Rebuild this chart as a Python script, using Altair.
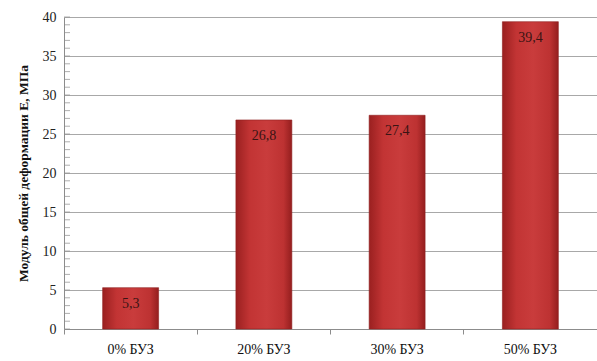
import altair as alt
import pandas as pd

categories = ["0% БУЗ", "20% БУЗ", "30% БУЗ", "50% БУЗ"]
values = [5.3, 26.8, 27.4, 39.4]
minor_ticks = list(range(0, 41))
major_ticks = [0, 5, 10, 15, 20, 25, 30, 35, 40]

df = pd.DataFrame({"cat": categories, "val": values})

FONT = "Liberation Serif"

x_scale = alt.Scale(domain=categories, paddingInner=0, paddingOuter=0)
y_scale = alt.Scale(domain=[0, 40], nice=False)

grad = alt.Gradient(
    gradient="linear",
    stops=[
        alt.GradientStop(color="#9a2020", offset=0),
        alt.GradientStop(color="#c23434", offset=0.25),
        alt.GradientStop(color="#c93c3c", offset=0.55),
        alt.GradientStop(color="#bd3232", offset=0.85),
        alt.GradientStop(color="#941e1e", offset=1),
    ],
    x1=0, x2=1, y1=0, y2=0,
)

bars = alt.Chart(df).mark_bar(
    width={"band": 0.42}, color=grad, stroke="#8e2020", strokeWidth=0.6
).encode(
    x=alt.X("cat:N", scale=x_scale, sort=categories,
            axis=alt.Axis(title=None, labelAngle=0, ticks=False, labelPadding=13,
                          labelFont=FONT, labelFontSize=14, labelColor="#111111",
                          domainColor="#8c8c8c", grid=False)),
    y=alt.Y("val:Q", scale=y_scale,
            axis=alt.Axis(title="Модуль общей деформации Е, МПа", values=major_ticks,
                          orient="left",
                          titleFont=FONT, titleFontSize=13.5, titleFontWeight="bold", titleColor="#111111",
                          titlePadding=12,
                          labelFont=FONT, labelFontSize=14, labelColor="#222222", labelPadding=8,
                          ticks=False, domainColor="#8c8c8c",
                          grid=True, gridColor="#a8a8a8", gridWidth=1)),
)

text = alt.Chart(df).transform_calculate(
    lab="replace(format(datum.val, '.1f'), '.', ',')"
).mark_text(baseline="top", dy=9, font=FONT, fontSize=14, color="#3a1414").encode(
    x=alt.X("cat:N", scale=x_scale, sort=categories, axis=None),
    y=alt.Y("val:Q", scale=y_scale, axis=None),
    text="lab:N",
)

minor_df = pd.DataFrame({"m": minor_ticks})
# minor ticks of the value axis, inside the plot along its left edge
yminor = alt.Chart(minor_df).mark_tick(
    orient="horizontal", size=6, thickness=1, color="#8c8c8c"
).encode(
    x=alt.value(3),
    y=alt.Y("m:Q", scale=y_scale, axis=None),
)

xticks = alt.Chart(df).mark_point(opacity=0).encode(
    x=alt.X("cat:N", scale=x_scale, sort=categories,
            axis=alt.Axis(title=None, labels=False, domain=False, grid=False,
                          ticks=True, tickSize=5, tickColor="#8c8c8c", bandPosition=0, orient="bottom")),
    y=alt.Y("val:Q", scale=y_scale, axis=None),
)

chart = alt.layer(yminor, bars, text, xticks).resolve_axis(
    x="independent", y="independent"
).properties(
    width=533, height=312,
    autosize=alt.AutoSizeParams(type="none"),
    padding={"left": 64, "top": 17, "right": 0, "bottom": 32},
).configure_view(stroke=None)

chart.save("out.html", embed_options={"renderer": "svg", "actions": False})
